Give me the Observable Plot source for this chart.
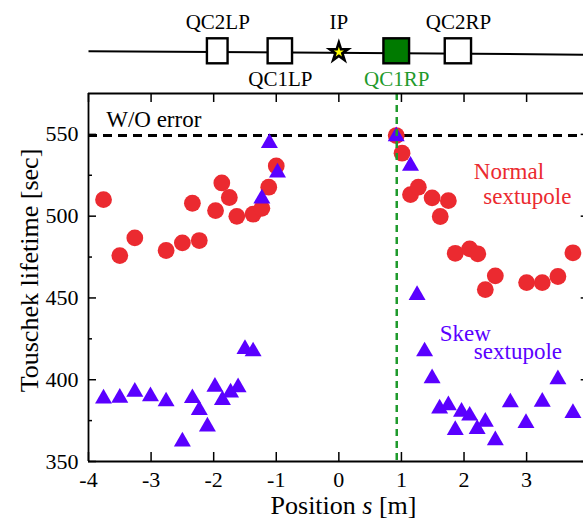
<!DOCTYPE html>
<html><head><meta charset="utf-8">
<script src="https://cdn.jsdelivr.net/npm/d3@7"></script>
<script src="https://cdn.jsdelivr.net/npm/@observablehq/plot@0.6"></script>
<style>
body{margin:0;background:#fff;}
#chart{width:583px;height:518px;overflow:hidden;position:relative;}
#chart svg{display:block;}
</style></head><body><div id="chart"></div>
<script>
// ---- data ----
const normalS    = [-3.76,-3.50,-3.26,-2.76,-2.50,-2.34,-2.23,-1.97,-1.87,-1.75,-1.63,-1.37,-1.23,-1.12,-1.00,
                     0.917,1.01,1.145,1.27,1.49,1.62,1.75,1.86,2.09,2.22,2.34,2.50,3.00,3.25,3.50,3.74];
const normalLife = [510.1,475.9,486.7,479.0,483.7,507.9,485.1,503.4,520.3,511.4,499.9,501.2,504.8,517.7,530.7,
                    549.3,538.5,513.2,517.7,511.2,499.8,509.5,477.3,480.0,477.0,455.1,463.5,459.4,459.4,463.1,477.6];
const skewS      = [-3.76,-3.50,-3.26,-3.01,-2.76,-2.50,-2.34,-2.23,-2.10,-1.98,-1.86,-1.73,-1.61,-1.50,-1.37,-1.23,-1.11,-0.98,
                     0.917,1.145,1.25,1.37,1.49,1.61,1.75,1.86,1.96,2.09,2.21,2.34,2.50,2.74,2.99,3.25,3.50,3.74];
const skewLife   = [388.5,388.9,392.6,389.8,386.7,362.2,388.7,381.4,371.4,395.7,387.5,392.2,395.3,418.7,417.3,510.8,544.7,526.7,
                    548.8,530.8,451.7,417.3,400.8,382.4,384.4,369.2,380.4,378.0,369.8,374.3,363.0,386.1,373.5,386.5,400.3,379.6];
const lifetimeNoError = 549.3;
const magnetNames = ["QC2LP","QC1LP","QC1RP","QC2RP"];
const magnetStart = [-2.10,-1.13,0.72,1.70];
const magnetEnd   = [-1.77,-0.74,1.13,2.12];
const ipPosition = 0;
const xTickValues = [-4,-3,-2,-1,0,1,2,3,4];
const yTickValues = [350,400,450,500,550];
const yMinorTicks = [375,425,475,525];

// ---- derived tables ----
const normal = normalS.map((s,i)=>({s, life: normalLife[i]}));
const skew = skewS.map((s,i)=>({s, life: skewLife[i]}));
const magnets = magnetNames.map((name,i)=>({name, start: magnetStart[i], end: magnetEnd[i], center: (magnetStart[i]+magnetEnd[i])/2}));
const qc1rp = magnets.find(m=>m.name==="QC1RP");

const FONT = "Liberation Serif, Times New Roman, serif";
const RED = "#eb2a30", BLUE = "#5a00ff", GREEN = "#1f9a2c";
const xScale = {domain:[-4,4], range:[88,588.7]};

// ---- top beamline diagram ----
const upperLabels = [...magnets.filter(m=>m.name.startsWith("QC2")).map(m=>({s:m.center,name:m.name,color:"black"})),
                     {s: ipPosition, name:"IP", color:"black"}];
const lowerLabels = magnets.filter(m=>m.name.startsWith("QC1")).map(m=>({s:m.center,name:m.name,color:m.name==="QC1RP"?GREEN:"black"}));

const diagramPlot = Plot.plot({
  width:583, height:90, margin:0,
  style:{fontFamily:FONT, background:"white"},
  x:{...xScale, axis:null},
  y:{domain:[-1,1], range:[63.3,38.3], axis:null},
  color:{type:"identity"},
  marks:[
    Plot.link([xScale.domain], {x1:d=>d[0], x2:d=>d[1], y1:0.01, y2:-0.27, stroke:"black", strokeWidth:2}),
    Plot.rect(magnets, {x1:"start", x2:"end", y1:-1, y2:1,
      fill: d=> d.name==="QC1RP" ? "#007a00" : "white", stroke:"black", strokeWidth:2.4}),
    Plot.dot([ipPosition], {x:d=>d, y:-0.07, symbol:"star", r:8.3, fill:"black"}),
    Plot.dot([ipPosition], {x:d=>d, y:-0.07, symbol:"star", r:3.2, fill:"yellow"}),
    Plot.text(upperLabels, {x:"s", y:1, dy:-10, text:"name", fill:"color", lineAnchor:"bottom", fontSize:21}),
    Plot.text(lowerLabels, {x:"s", y:-1, dy:22, text:"name", fill:"color", lineAnchor:"bottom", fontSize:21})
  ]
});

// ---- main chart ----
const mainPlot = Plot.plot({
  width:583, height:428,
  marginTop:3, marginBottom:57, marginLeft:88, marginRight:0,
  style:{fontFamily:FONT, fontSize:"22px", background:"white", overflow:"hidden"},
  x:{...xScale},
  y:{domain:[350,575], range:[371,3]},
  marks:[
    Plot.ruleY([lifetimeNoError], {stroke:"black", strokeWidth:3, strokeDasharray:"9,6"}),
    Plot.dot(normal, {x:"s", y:"life", r:8.4, fill:RED}),
    Plot.dot(skew, {x:"s", y:"life", symbol:"triangle", r:6.3, fill:BLUE}),
    Plot.ruleX([qc1rp.center], {stroke:GREEN, strokeWidth:2.5, strokeDasharray:"7,5"}),
    // frame
    Plot.ruleX([-4], {stroke:"black", strokeWidth:1.8}),
    Plot.ruleY([350], {stroke:"black", strokeWidth:1.8}),
    Plot.ruleY([575], {stroke:"black", strokeWidth:1.8}),
    // inward ticks
    Plot.tickX(xTickValues, {x:d=>d, insetTop:359, stroke:"black", strokeWidth:1.5}),
    Plot.tickX(xTickValues, {x:d=>d, insetBottom:359, stroke:"black", strokeWidth:1.5}),
    Plot.tickY(yTickValues, {y:d=>d, insetRight:487, stroke:"black", strokeWidth:1.5}),
    Plot.tickY(yMinorTicks, {y:d=>d, insetRight:491, stroke:"black", strokeWidth:1.5}),
    Plot.tickY(yTickValues, {y:d=>d, insetLeft:492.7, stroke:"black", strokeWidth:1.5}),
    // axes labels
    Plot.axisX({ticks:xTickValues, tickSize:0, tickPadding:10, tickFormat:d=>String(d), label:null, fontSize:22}),
    Plot.axisY({ticks:yTickValues, tickSize:0, tickPadding:10, tickFormat:d=>String(d), label:null, fontSize:22}),
    Plot.text(["Position s [m]"], {frameAnchor:"bottom", dx:7.5, dy:52, textAnchor:"middle", lineAnchor:"bottom", fontSize:26}),
    Plot.text(["Touschek lifetime [sec]"], {frameAnchor:"left", dx:-51, dy:-7, rotate:-90, textAnchor:"middle", lineAnchor:"bottom", fontSize:26}),
    // annotations
    Plot.text([lifetimeNoError], {y:d=>d, frameAnchor:"left", dx:17.7, dy:-8.3, text:()=>"W/O error", textAnchor:"start", lineAnchor:"bottom", fontSize:23}),
    Plot.text(["Normal"], {x:2.157, y:522.6, textAnchor:"start", lineAnchor:"bottom", fontSize:23, fill:RED}),
    Plot.text(["sextupole"], {x:2.307, y:507.2, textAnchor:"start", lineAnchor:"bottom", fontSize:23, fill:RED}),
    Plot.text(["Skew"], {x:1.613, y:423.4, textAnchor:"start", lineAnchor:"bottom", fontSize:23, fill:BLUE}),
    Plot.text(["sextupole"], {x:2.157, y:412.5, textAnchor:"start", lineAnchor:"bottom", fontSize:23, fill:BLUE})
  ]
});

// italic "s" in the x label
d3.select(mainPlot).selectAll("text").filter(function(){ return this.textContent === "Position s [m]"; })
  .each(function(){
    const t = d3.select(this);
    t.text(null);
    t.append("tspan").text("Position ");
    t.append("tspan").attr("font-style","italic").text("s");
    t.append("tspan").text(" [m]");
  });

const chart = document.getElementById("chart");
chart.appendChild(diagramPlot);
chart.appendChild(mainPlot);
</script></body></html>
